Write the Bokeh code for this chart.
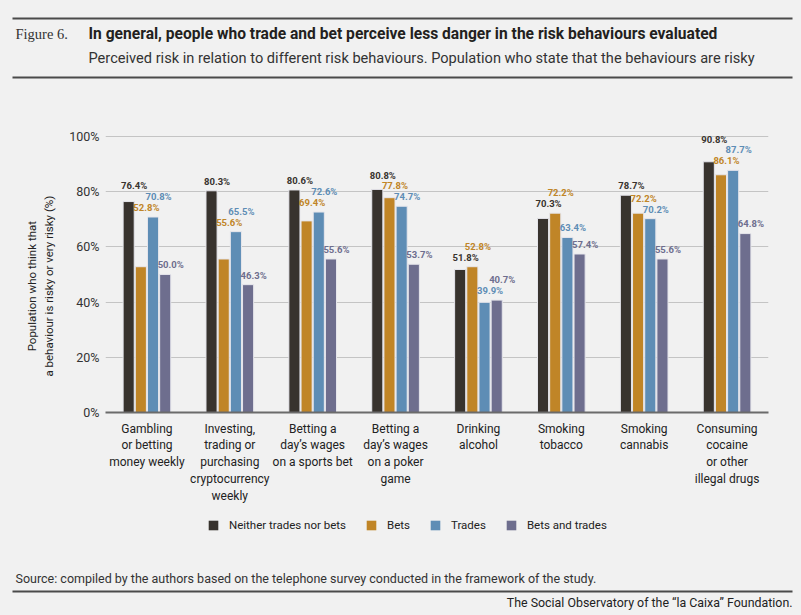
from bokeh.plotting import figure
from bokeh.layouts import column
from bokeh.models import (ColumnDataSource, FactorRange, Range1d, FixedTicker,
                          PrintfTickFormatter, Label, BoxAnnotation, Legend, LegendItem)
from bokeh.transform import dodge
from bokeh.embed import file_html
from bokeh.resources import INLINE
from bokeh.core.properties import value

# ---------------- data ----------------
categories = [
    "Gambling\nor betting\nmoney weekly",
    "Investing,\ntrading or\npurchasing\ncryptocurrency\nweekly",
    "Betting a\nday\u2019s wages\non a sports bet",
    "Betting a\nday\u2019s wages\non a poker\ngame",
    "Drinking\nalcohol",
    "Smoking\ntobacco",
    "Smoking\ncannabis",
    "Consuming\ncocaine\nor other\nillegal drugs",
]
series_names = ["Neither trades nor bets", "Bets", "Trades", "Bets and trades"]
neither = [76.4, 80.3, 80.6, 80.8, 51.8, 70.3, 78.7, 90.8]
bets = [52.8, 55.6, 69.4, 77.8, 52.8, 72.2, 72.2, 86.1]
trades = [70.8, 65.5, 72.6, 74.7, 39.9, 63.4, 70.2, 87.7]
bets_and_trades = [50.0, 46.3, 55.6, 53.7, 40.7, 57.4, 55.6, 64.8]
y_ticks = [0, 20, 40, 60, 80, 100]

figure_no = "Figure 6."
title_text = "In general, people who trade and bet perceive less danger in the risk behaviours evaluated"
subtitle_text = "Perceived risk in relation to different risk behaviours. Population who state that the behaviours are risky"
source_text = "Source: compiled by the authors based on the telephone survey conducted in the framework of the study."
footer_text = "The Social Observatory of the \u201cla Caixa\u201d Foundation."
y_label_lines = ["Population who think that", "a behaviour is risky or very risky (%)"]

# ---------------- style ----------------
BG = "#f1f1f1"
SANS = "Roboto"
SERIF = "Liberation Serif"
RULE = "#4a4a4a"
colors = ["#38332e", "#c08527", "#5e8db5", "#6e6e8e"]
W = 801
H_HEAD, H_CHART, H_FOOT = 86, 419, 110
bar_step = 0.147
bar_width = 0.134
label_pad = 1.5
label_h = 3.9
# trailing no-break spaces move the centred axis title toward the bottom
y_label = "\n".join(line + "\u00a0" * 18 for line in y_label_lines)

series = [neither, bets, trades, bets_and_trades]
keys = ["s0", "s1", "s2", "s3"]
offsets = [(i - 1.5) * bar_step for i in range(4)]

# label positions: each label starts at its bar and spans the next bar too,
# so it sits above both; labels that would collide are lifted.
n_s = len(series)
label_y = [[0.0] * len(categories) for _ in series]
for c in range(len(categories)):
    vals = [s[c] for s in series]
    base = [max(vals[i], vals[i + 1]) if i + 1 < n_s else vals[i] for i in range(n_s)]
    order = sorted(range(n_s), key=lambda i: base[i])
    placed = {}
    for i in order:
        y = base[i] + label_pad
        changed = True
        while changed:
            changed = False
            for j, yj in placed.items():
                if abs(i - j) <= 2 and y < yj + label_h and yj < y + label_h:
                    y = yj + label_h
                    changed = True
        placed[i] = y
        label_y[i][c] = y

data = dict(cat=categories)
for i, k in enumerate(keys):
    data[k] = series[i]
    data[k + "_ly"] = label_y[i]
    data[k + "_txt"] = ["%.1f%%" % v for v in series[i]]
source = ColumnDataSource(data)


def blank(h):
    f = figure(width=W, height=h, x_range=Range1d(0, W), y_range=Range1d(h, 0),
               output_backend="svg", toolbar_location=None, min_border=0,
               background_fill_color=BG, border_fill_color=BG, outline_line_color=None,
               frame_align=False)
    f.axis.visible = False
    f.grid.visible = False
    f.title.visible = False
    return f


def rule(f, y):
    f.add_layout(BoxAnnotation(left=12, right=792, top=y - 1, bottom=y + 1,
                               fill_color=RULE, fill_alpha=1, line_color=None))


# ---------------- header ----------------
head = blank(H_HEAD)
rule(head, 18)
rule(head, 77)
head.add_layout(Label(x=15, y=33, text=figure_no, text_font=SERIF, text_font_size="14.5px",
                      text_color="#333333", text_baseline="middle"))
head.add_layout(Label(x=88, y=33, text=title_text, text_font=SANS, text_font_size="15.6px",
                      text_font_style="bold", text_color="#231f20", text_baseline="middle"))
head.add_layout(Label(x=88, y=57, text=subtitle_text, text_font=SANS, text_font_size="14.6px",
                      text_color="#333333", text_baseline="middle"))

# ---------------- chart ----------------
p = figure(x_range=FactorRange(*categories), y_range=Range1d(0, 110.1),
           width=W, height=H_CHART, output_backend="svg", toolbar_location=None,
           min_border_left=105, min_border_right=33, min_border_top=22,
           min_border_bottom=92, background_fill_color=BG,
           border_fill_color=BG, outline_line_color=None, frame_align=False)
p.title.visible = False

renderers = []
for i, k in enumerate(keys):
    r = p.vbar(x=dodge("cat", offsets[i], range=p.x_range), top=k, width=bar_width,
               source=source, fill_color=colors[i], line_color="#e6e6ec", line_width=1)
    renderers.append(r)
for i, k in enumerate(keys):
    p.text(x=dodge("cat", offsets[i] - bar_width / 2, range=p.x_range), y=k + "_ly",
           text=k + "_txt", source=source, text_align="left", text_baseline="bottom",
           text_font=value(SANS), text_font_size="9.5px", text_font_style="bold",
           text_color=colors[i], x_offset=-2)

p.xgrid.grid_line_color = None
p.ygrid.grid_line_color = "#c4c4c4"
p.ygrid.grid_line_width = 1
p.ygrid.ticker = FixedTicker(ticks=y_ticks)
p.yaxis.ticker = FixedTicker(ticks=y_ticks)
p.yaxis.formatter = PrintfTickFormatter(format="%d%%")
p.yaxis.axis_line_color = None
p.yaxis.major_tick_line_color = None
p.yaxis.minor_tick_line_color = None
p.yaxis.major_tick_out = 0
p.yaxis.major_tick_in = 0
p.yaxis.minor_tick_out = 0
p.yaxis.major_label_text_font = SANS
p.yaxis.major_label_text_font_size = "12.5px"
p.yaxis.major_label_text_color = "#333333"
p.yaxis.major_label_standoff = 6
p.yaxis.axis_label = y_label
p.yaxis.axis_label_text_font = SANS
p.yaxis.axis_label_text_font_size = "11.5px"
p.yaxis.axis_label_text_font_style = "normal"
p.yaxis.axis_label_text_color = "#222222"
p.yaxis.axis_label_standoff = 10

p.xaxis.axis_line_color = "#6b6b6b"
p.xaxis.axis_line_width = 2
p.xaxis.major_tick_line_color = None
p.xaxis.minor_tick_line_color = None
p.xaxis.major_tick_out = 0
p.xaxis.major_tick_in = 0
p.xaxis.minor_tick_out = 0
p.xaxis.major_label_text_font = SANS
p.xaxis.major_label_text_font_size = "12px"
p.xaxis.major_label_text_color = "#222222"
p.xaxis.major_label_standoff = 9
p.xaxis.major_label_orientation = "horizontal"

# ---------------- footer ----------------
foot = blank(H_FOOT)
# zero-size stand-in bars that only carry the legend swatch colours
swatch = ColumnDataSource(dict(x=[0], top=[0]))
legend_renderers = [foot.vbar(x="x", top="top", bottom="top", width=0, source=swatch,
                              fill_color=c, line_color=None) for c in colors]
legend = Legend(items=[LegendItem(label=n, renderers=[legend_renderers[i]])
                       for i, n in enumerate(series_names)],
                orientation="horizontal", location=(207, 83),
                background_fill_alpha=0, border_line_color=None,
                glyph_width=12, glyph_height=12, label_standoff=10, spacing=19,
                padding=0, margin=0, label_text_font=SANS,
                label_text_font_size="11.5px", label_text_color="#222222",
                label_text_baseline="middle")
foot.add_layout(legend)
foot.add_layout(Label(x=15, y=73, text=source_text, text_font=SANS, text_font_size="12.5px",
                      text_color="#333333", text_baseline="middle"))
rule(foot, 86)
foot.add_layout(Label(x=792, y=97, text=footer_text, text_font=SANS, text_font_size="12.4px",
                      text_color="#222222", text_baseline="middle", text_align="right"))

layout = column(head, p, foot, spacing=0)

html = file_html(layout, INLINE)
html = html.replace("<body>", '<body style="background:#f1f1f1;">')
open("out.html", "w").write(html)
